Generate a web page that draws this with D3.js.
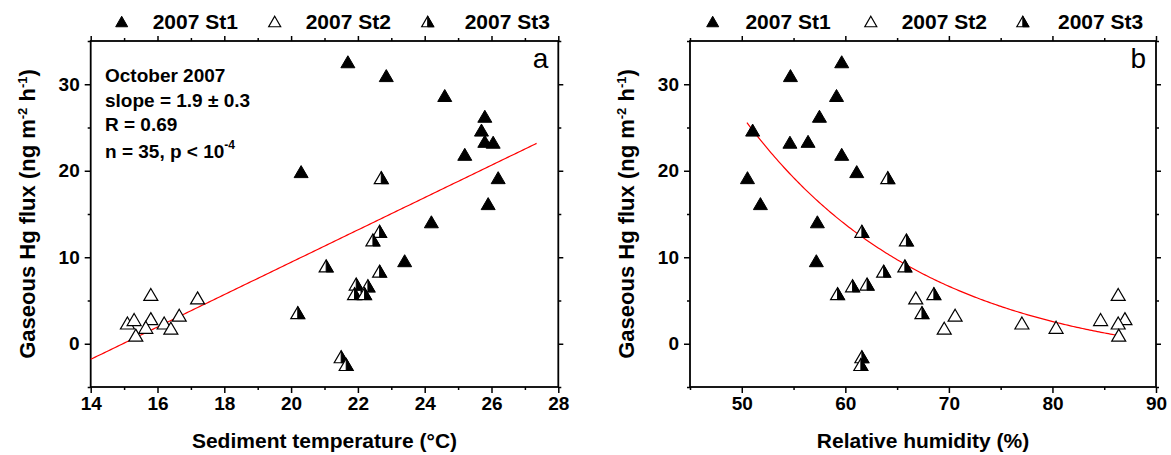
<!DOCTYPE html>
<html><head><meta charset="utf-8">
<script src="https://cdn.jsdelivr.net/npm/d3@7"></script>
<style>
body{margin:0;background:#fff}
svg text{font-family:"Liberation Sans",Arial,sans-serif;font-weight:bold;fill:#000}
</style>
</head><body><svg id="c" width="1171" height="455"></svg>
<script>
// ---------------- data ----------------
const seriesNames = ["2007 St1", "2007 St2", "2007 St3"];
// gaseous Hg flux (ng m-2 h-1), shared by both panels
const fluxSt1 = [32.6, 31.0, 28.7, 26.3, 24.7, 23.4, 23.3, 21.9, 19.9, 19.2, 16.2, 14.1, 9.6];
const fluxSt2 = [5.7, 5.3, 2.4, 2.8, 2.9, 2.4, 1.9, 1.8, 3.3, 1.0];
const fluxSt3 = [19.2, 13.0, 12.0, 9.0, 8.4, 6.9, 6.7, 5.8, 5.8, 3.6, -1.5, -2.4];
// panel a: sediment temperature (°C)
const tempSt1 = [21.7, 22.85, 24.6, 25.8, 25.7, 25.8, 26.05, 25.2, 20.3, 26.2, 25.9, 24.2, 23.4];
const tempSt2 = [15.8, 17.2, 15.1, 15.3, 15.8, 16.2, 15.65, 16.4, 16.65, 15.35];
const tempSt3 = [22.7, 22.65, 22.45, 21.05, 22.65, 21.95, 22.3, 21.9, 22.2, 20.2, 21.5, 21.65];
// panel b: relative humidity (%)
const rhSt1 = [59.65, 54.7, 59.15, 57.5, 51.05, 56.4, 54.65, 59.65, 61.1, 50.55, 51.8, 57.3, 57.2];
const rhSt2 = [86.35, 66.8, 77.05, 84.65, 87.0, 86.35, 80.35, 69.55, 70.6, 86.4];
const rhSt3 = [64.1, 61.6, 65.9, 65.75, 63.7, 62.1, 60.7, 59.25, 68.55, 67.4, 61.6, 61.5];
// fits
const linFit = [1.87, -27.98];          // slope, intercept (panel a)
const linFitRange = [14, 27.35];
const expFit = [-2.8, 489.5, 17.73];    // y0, A1, t1 : y = y0 + A1*exp(-x/t1) (panel b)
const expFitRange = [50.5, 86.3];
// ticks
const xTicksA = [14, 16, 18, 20, 22, 24, 26, 28];
const xMinorA = [15, 17, 19, 21, 23, 25, 27];
const xTicksB = [50, 60, 70, 80, 90];
const xMinorB = [45, 55, 65, 75, 85];
const yTicks = [0, 10, 20, 30];
const yMinor = [-5, 5, 15, 25, 35];
const annotation = ["October 2007", "slope = 1.9 \u00b1 0.3", "R = 0.69", "n = 35, p < 10"];

// ---------------- drawing ----------------
const svg = d3.select("#c");
const plotTop = 41, plotBottom = 387;
const y = d3.scaleLinear().domain([-5, 35]).range([plotBottom, plotTop]);

const triW = 14, triH = 12;
function triPath(w, h) { return `M0,${-h/2}L${w/2},${h/2}L${-w/2},${h/2}Z`; }
function halfPath(w, h) { return `M0,${-h/2}L${w/2},${h/2}L0,${h/2}Z`; }
function drawSym(g, kind, w, h) {
  if (kind === 0) {
    g.append("path").attr("d", triPath(w, h)).attr("fill", "#000").attr("stroke", "#000").attr("stroke-width", 1);
  } else if (kind === 1) {
    g.append("path").attr("d", triPath(w, h)).attr("fill", "#fff").attr("stroke", "#000").attr("stroke-width", 1.2);
  } else {
    g.append("path").attr("d", triPath(w, h)).attr("fill", "#fff").attr("stroke", "#000").attr("stroke-width", 1.2);
    g.append("path").attr("d", halfPath(w, h)).attr("fill", "#000").attr("stroke", "#000").attr("stroke-width", 1);
  }
}

function panel(cfg) {
  const x = d3.scaleLinear().domain(cfg.domain).range([cfg.left, cfg.right]);
  const g = svg.append("g");
  const styleAxis = sel => {
    sel.select(".domain").remove();
    sel.selectAll("line").attr("stroke", "#000").attr("stroke-width", 1.5);
    sel.selectAll("text").attr("font-size", 19).attr("fill", "#000");
  };
  g.append("g").attr("transform", `translate(0,${plotBottom})`).call(d3.axisBottom(x).tickValues(cfg.ticks).tickSize(6).tickPadding(4).tickFormat(d3.format("d"))).call(styleAxis);
  g.append("g").attr("transform", `translate(0,${plotBottom})`).call(d3.axisBottom(x).tickValues(cfg.minor).tickSize(3).tickFormat("")).call(styleAxis);
  g.append("g").attr("transform", `translate(0,${plotTop})`).call(d3.axisTop(x).tickValues(cfg.ticks).tickSize(5).tickFormat("")).call(styleAxis);
  g.append("g").attr("transform", `translate(0,${plotTop})`).call(d3.axisTop(x).tickValues(cfg.minor).tickSize(3).tickFormat("")).call(styleAxis);
  g.append("g").attr("transform", `translate(${cfg.left},0)`).call(d3.axisLeft(y).tickValues(yTicks).tickSize(6).tickPadding(5).tickFormat(d3.format("d"))).call(styleAxis);
  g.append("g").attr("transform", `translate(${cfg.left},0)`).call(d3.axisLeft(y).tickValues(yMinor).tickSize(3).tickFormat("")).call(styleAxis);
  g.append("g").attr("transform", `translate(${cfg.right},0)`).call(d3.axisRight(y).tickValues(yTicks).tickSize(5).tickFormat("")).call(styleAxis);
  g.append("g").attr("transform", `translate(${cfg.right},0)`).call(d3.axisRight(y).tickValues(yMinor).tickSize(3).tickFormat("")).call(styleAxis);
  g.append("rect").attr("x", cfg.left).attr("y", plotTop).attr("width", cfg.right - cfg.left).attr("height", plotBottom - plotTop)
    .attr("fill", "none").attr("stroke", "#000").attr("stroke-width", 1.8);
  const xs = d3.range(0, 201).map(i => cfg.fitRange[0] + (cfg.fitRange[1] - cfg.fitRange[0]) * i / 200);
  g.append("path").attr("d", d3.line().x(d => x(d)).y(d => y(cfg.fit(d)))(xs))
    .attr("fill", "none").attr("stroke", "#ff0000").attr("stroke-width", 1.2);
  cfg.series.forEach((s, k) => {
    s.x.forEach((xv, i) => {
      const p = g.append("g").attr("transform", `translate(${x(xv)},${y(s.y[i])})`);
      drawSym(p, k, triW, triH);
    });
  });
  seriesNames.forEach((name, k) => {
    const sg = g.append("g").attr("transform", `translate(${cfg.left + cfg.legSym[k]},21.5)`);
    drawSym(sg, k, 12, 10.5);
    g.append("text").attr("x", cfg.left + cfg.legText[k]).attr("y", 29).attr("font-size", 21).text(name);
  });
  g.append("text").attr("x", cfg.right - 10).attr("y", 68).attr("text-anchor", "end")
    .attr("font-size", 28).style("font-weight", "normal").text(cfg.letter);
  g.append("text").attr("x", (cfg.left + cfg.right) / 2).attr("y", 448).attr("text-anchor", "middle")
    .attr("font-size", 21).text(cfg.xTitle);
  const yt = g.append("text").attr("transform", `translate(${cfg.left - 56},${(plotTop + plotBottom) / 2}) rotate(-90)`)
    .attr("text-anchor", "middle").attr("font-size", 22);
  yt.append("tspan").text("Gaseous Hg flux (ng m");
  yt.append("tspan").attr("dy", -8).attr("font-size", 13).text("-2");
  yt.append("tspan").attr("dy", 8).text(" h");
  yt.append("tspan").attr("dy", -8).attr("font-size", 13).text("-1");
  yt.append("tspan").attr("dy", 8).text(")");
  return { g, x };
}

panel({
  left: 90.7, right: 558.3, domain: [14, 28], ticks: xTicksA, minor: xMinorA,
  fit: t => linFit[0] * t + linFit[1], fitRange: linFitRange,
  series: [{ x: tempSt1, y: fluxSt1 }, { x: tempSt2, y: fluxSt2 }, { x: tempSt3, y: fluxSt3 }],
  legSym: [31, 184, 337], legText: [62, 215, 374], letter: "a", xTitle: "Sediment temperature (\u00b0C)"
});
panel({
  left: 690, right: 1156, domain: [45, 90], ticks: xTicksB, minor: xMinorB,
  fit: t => expFit[0] + expFit[1] * Math.exp(-t / expFit[2]), fitRange: expFitRange,
  series: [{ x: rhSt1, y: fluxSt1 }, { x: rhSt2, y: fluxSt2 }, { x: rhSt3, y: fluxSt3 }],
  legSym: [22.7, 180.8, 332.8], legText: [55.4, 211.7, 368], letter: "b", xTitle: "Relative humidity (%)"
});

const ann = svg.append("g");
const annY = [82, 106.5, 130.5, 158];
annotation.forEach((t, i) => {
  const tx = ann.append("text").attr("x", 105).attr("y", annY[i]).attr("font-size", 19).text(t);
  if (i === 3) tx.append("tspan").attr("dy", -9).attr("font-size", 12).text("-4");
});
</script>
</body></html>
